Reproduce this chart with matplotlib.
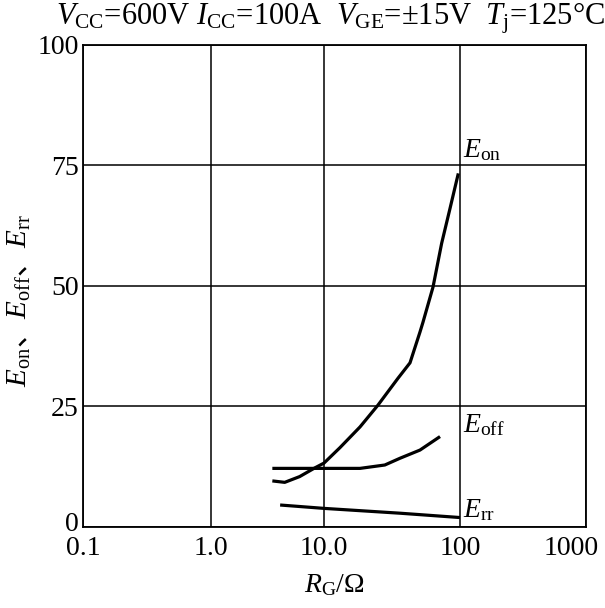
import numpy as np
import matplotlib
matplotlib.use('Agg')
import matplotlib.pyplot as plt
import matplotlib.transforms as mtransforms

plt.rcParams['font.family'] = ['Liberation Serif', 'Noto Sans CJK SC']
plt.rcParams['mathtext.fontset'] = 'custom'
plt.rcParams['mathtext.rm'] = 'Liberation Serif'
plt.rcParams['mathtext.it'] = 'Liberation Serif:italic'
plt.rcParams['mathtext.sf'] = 'Noto Sans CJK SC'

# curves (R_G in ohm, energy)
rg_on = [3.5, 4.5, 6.1, 8.3, 10, 13.1, 18.4, 24.9, 35, 42.9, 50.8, 53.4, 63.3, 73.3, 84.4, 97.2]
e_on = [9.5, 9.2, 10.4, 12.2, 13.2, 16.4, 20.7, 25.2, 30.8, 34.0, 40.4, 42.4, 49.7, 58.8, 66.0, 73.3]
rg_off = [3.5, 8.0, 18.4, 28, 36.2, 50.8, 71.3]
e_off = [12.1, 12.1, 12.1, 12.8, 14.2, 15.9, 18.7]
rg_rr = [4.1, 10, 36.2, 100]
e_rr = [4.5, 3.8, 2.8, 1.9]

xticks = [0.1, 1, 10, 100, 1000]
xticklabels = ['0.1', '1.0', '10.0', '100', '1000']
yticks = [0, 25, 50, 75, 100]

# decades in the original are not evenly spaced
dec_log = [-1, 0, 1, 2, 3]
dec_pos = [0, 127.7, 241, 377, 502.7]


def fwd(x):
    x = np.clip(np.asarray(x, dtype=float), 1e-300, None)
    return np.interp(np.log10(x), dec_log, dec_pos)


def inv(p):
    return 10 ** np.interp(p, dec_pos, dec_log)


fig = plt.figure(figsize=(6.05, 6.08), dpi=100)
ax = fig.add_axes([83 / 605, 1 - 526.7 / 608, 502.7 / 605, 482 / 608])
ax.set_xscale('function', functions=(fwd, inv))
ax.set_xlim(0.1, 1000)
ax.set_ylim(0, 100)

ax.plot(rg_on, e_on, color='black', lw=2.3, solid_capstyle='butt')
ax.plot(rg_off, e_off, color='black', lw=2.3, solid_capstyle='butt')
ax.plot(rg_rr, e_rr, color='black', lw=2.3, solid_capstyle='butt')

ax.set_xticks(xticks)
ax.set_xticklabels(xticklabels)
ax.set_xticks([], minor=True)
ax.set_yticks(yticks)
ax.tick_params(length=0, labelsize=20, pad=7)
ax.tick_params(axis='y', pad=3)
ax.grid(True, color='black', lw=1.1)
for s in ax.spines.values():
    s.set_linewidth(1.3)

last = ax.get_xticklabels()[-1]
last.set_horizontalalignment('right')
last.set_transform(last.get_transform() + mtransforms.ScaledTranslation(0.13, 0, fig.dpi_scale_trans))
zero = ax.get_yticklabels()[0]
zero.set_transform(zero.get_transform() + mtransforms.ScaledTranslation(0, 0.05, fig.dpi_scale_trans))

ax.text(106, 75.5, r'$E_{\rm on}$', fontsize=20, va='bottom', ha='left')
ax.text(106, 21, r'$E_{\rm off}$', fontsize=20, va='center', ha='left')
ax.text(106, 3.5, r'$E_{\rm rr}$', fontsize=20, va='center', ha='left')

ax.set_xlabel(r'$R_{\rm G}$/Ω', fontsize=20, labelpad=8)
ax.set_ylabel(r'$E_{\rm on}\mathsf{、}E_{\rm off}\mathsf{、}E_{\rm rr}$', fontsize=21)
ax.yaxis.set_label_coords(-0.1, 0.47)
fig.text(56 / 605, 1.0, r'$V_{\rm CC}$=600V $I_{\rm CC}$=100A  $V_{\rm GE}$=±15V  $T_{\rm j}$=125°C',
         fontsize=22, ha='left', va='top')

fig.savefig('out.png', dpi=100)
